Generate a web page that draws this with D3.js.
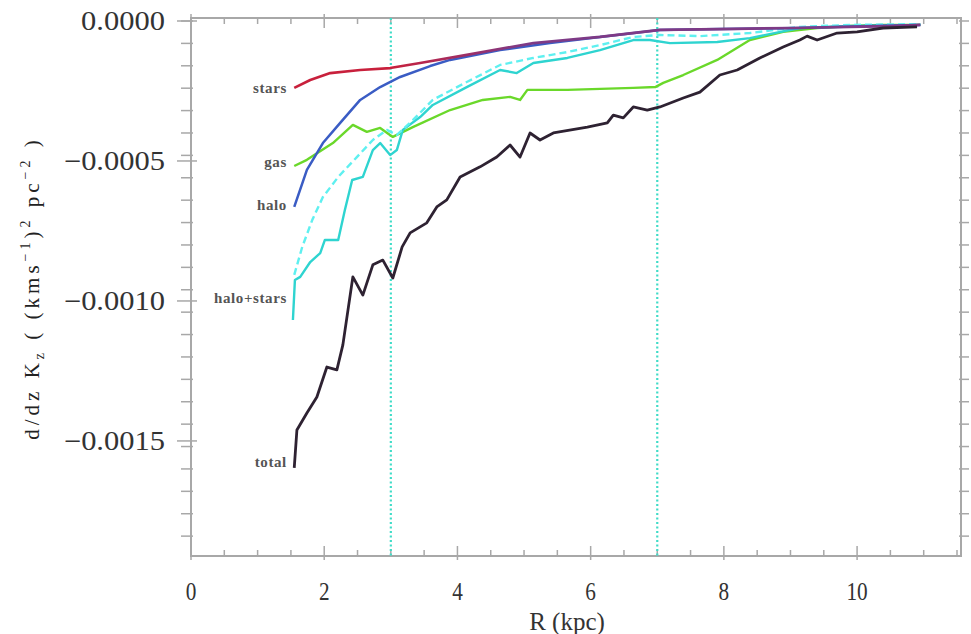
<!DOCTYPE html>
<html><head><meta charset="utf-8">
<script src="https://cdn.jsdelivr.net/npm/d3@7"></script>
<style>
html,body{margin:0;padding:0;background:#fff;}
svg{display:block;}
</style></head>
<body>
<svg id="chart" width="971" height="634"></svg>
<script>
// ---------- data ----------
const xTickLabels = [0, 2, 4, 6, 8, 10];
const yTickLabels = [0, -0.0005, -0.0010, -0.0015];
const markerLines = [3, 7];

const starsR   = [1.55,1.79,2.09,2.54,2.99,3.44,4.14,5.14,6.14,7.04,7.94,9.04,9.89,10.50,10.95];
const starsV   = [-2.39e-4,-2.11e-4,-1.86e-4,-1.75e-4,-1.68e-4,-1.50e-4,-1.21e-4,-0.79e-4,-0.57e-4,-0.32e-4,-0.29e-4,-0.25e-4,-0.21e-4,-0.18e-4,-0.14e-4];

const haloR    = [1.55,1.74,1.98,2.24,2.54,2.84,3.14,3.59,3.89,4.64,5.39,6.14,7.04,7.94,9.14,10.20,10.95];
const haloV    = [-6.64e-4,-5.32e-4,-4.36e-4,-3.64e-4,-2.82e-4,-2.36e-4,-2.00e-4,-1.61e-4,-1.39e-4,-1.04e-4,-0.79e-4,-0.57e-4,-0.32e-4,-0.29e-4,-0.25e-4,-0.18e-4,-0.14e-4];

const gasR     = [1.55,1.74,2.13,2.43,2.64,2.84,3.03,3.33,3.89,4.38,4.79,4.94,5.05,5.65,6.64,6.97,7.09,7.39,7.90,8.39,8.89,9.40,9.89,10.35,10.95];
const gasV     = [-5.18e-4,-4.96e-4,-4.36e-4,-3.71e-4,-3.96e-4,-3.82e-4,-4.14e-4,-3.79e-4,-3.18e-4,-2.82e-4,-2.71e-4,-2.82e-4,-2.46e-4,-2.46e-4,-2.39e-4,-2.36e-4,-2.21e-4,-1.93e-4,-1.39e-4,-0.68e-4,-0.39e-4,-0.25e-4,-0.18e-4,-0.14e-4,-0.14e-4];

const hsR      = [1.53,1.56,1.64,1.79,1.94,2.01,2.21,2.31,2.42,2.58,2.73,2.84,2.99,3.09,3.18,3.44,3.63,4.14,4.64,4.89,5.14,5.65,6.14,6.64,6.89,7.19,7.90,8.39,9.14,9.89,10.95];
const hsV      = [-10.68e-4,-9.25e-4,-9.14e-4,-8.61e-4,-8.29e-4,-7.82e-4,-7.82e-4,-6.75e-4,-5.68e-4,-5.57e-4,-4.61e-4,-4.36e-4,-4.79e-4,-4.61e-4,-3.89e-4,-3.43e-4,-3.00e-4,-2.36e-4,-1.75e-4,-1.86e-4,-1.50e-4,-1.32e-4,-1.04e-4,-0.68e-4,-0.68e-4,-0.79e-4,-0.75e-4,-0.61e-4,-0.25e-4,-0.18e-4,-0.14e-4];

const hs2R     = [1.55,1.67,1.82,1.98,2.21,2.49,2.73,2.94,3.09,3.33,3.63,4.14,4.64,5.14,5.65,6.14,6.64,7.04,7.64,8.39,9.14,9.89,10.95];
const hs2V     = [-9.07e-4,-8.07e-4,-7.11e-4,-6.29e-4,-5.57e-4,-4.86e-4,-4.25e-4,-3.89e-4,-4.07e-4,-3.54e-4,-2.82e-4,-2.18e-4,-1.57e-4,-1.32e-4,-1.11e-4,-0.86e-4,-0.57e-4,-0.50e-4,-0.54e-4,-0.43e-4,-0.21e-4,-0.14e-4,-0.11e-4];

const totalR   = [1.55,1.59,1.74,1.89,2.04,2.19,2.28,2.43,2.58,2.73,2.88,3.03,3.17,3.29,3.54,3.69,3.84,4.04,4.34,4.59,4.79,4.94,5.09,5.24,5.44,5.95,6.25,6.34,6.49,6.64,6.85,7.04,7.39,7.64,7.94,8.20,8.54,8.89,9.14,9.25,9.40,9.70,10.00,10.39,10.90];
const totalV   = [-15.96e-4,-14.61e-4,-14.00e-4,-13.43e-4,-12.36e-4,-12.46e-4,-11.57e-4,-9.14e-4,-9.79e-4,-8.71e-4,-8.54e-4,-9.18e-4,-8.07e-4,-7.57e-4,-7.21e-4,-6.64e-4,-6.39e-4,-5.57e-4,-5.21e-4,-4.86e-4,-4.43e-4,-4.86e-4,-4.00e-4,-4.25e-4,-4.00e-4,-3.79e-4,-3.64e-4,-3.36e-4,-3.46e-4,-3.07e-4,-3.18e-4,-3.07e-4,-2.75e-4,-2.54e-4,-1.93e-4,-1.75e-4,-1.32e-4,-0.93e-4,-0.68e-4,-0.54e-4,-0.68e-4,-0.43e-4,-0.39e-4,-0.25e-4,-0.21e-4];

const seriesNames = ["stars","gas","halo","halo+stars","total"];
const labelValues = [-2.45e-4,-5.10e-4,-6.64e-4,-9.96e-4,-15.80e-4];

// ---------- layout ----------
const svg = d3.select("#chart");
const L = 191, R = 961, T = 18, B = 556;
const x = d3.scaleLinear().domain([0, 11.56]).range([L, R]);
const y = d3.scaleLinear().domain([0.0000107, -0.001911]).range([T, B]);

const serif = "'Liberation Serif','DejaVu Serif',serif";
const axisCol = "#a8a8a8";

// gradient for the stars curve (red turning purple where it meets the halo curve)
const defs = svg.append("defs");
const grad = defs.append("linearGradient").attr("id", "starsGrad")
  .attr("gradientUnits", "userSpaceOnUse")
  .attr("x1", x(3.0)).attr("x2", x(5.0)).attr("y1", 0).attr("y2", 0);
grad.append("stop").attr("offset", 0).attr("stop-color", "#c8203c");
grad.append("stop").attr("offset", 1).attr("stop-color", "#7e3a86");

// frame
svg.append("rect").attr("x", L).attr("y", T).attr("width", R - L).attr("height", B - T)
  .attr("fill", "none").attr("stroke", axisCol).attr("stroke-width", 2);

// x ticks
const xMinor = d3.range(0, 11.56, 0.5);
const gx = svg.append("g").attr("stroke", axisCol).attr("stroke-width", 1.5);
xMinor.forEach(v => {
  const major = Math.abs(v % 2) < 1e-9;
  const len = major ? 10 : 6;
  gx.append("line").attr("x1", x(v)).attr("x2", x(v)).attr("y1", B - len).attr("y2", B + (major ? 4 : 0));
  gx.append("line").attr("x1", x(v)).attr("x2", x(v)).attr("y1", T + len).attr("y2", T - (major ? 4 : 0));
});
// y ticks
const yMinor = d3.range(0, -0.00191, -0.00008);
yMinor.forEach(v => {
  gx.append("line").attr("x1", L - 10).attr("x2", L + 2).attr("y1", y(v)).attr("y2", y(v));
  gx.append("line").attr("x1", R - 2).attr("x2", R + 8).attr("y1", y(v)).attr("y2", y(v));
});
yTickLabels.forEach(v => {
  gx.append("line").attr("x1", L - 14).attr("x2", L + 6).attr("y1", y(v)).attr("y2", y(v));
});

// x tick labels
svg.append("g").selectAll("text").data(xTickLabels).join("text")
  .attr("transform", d => `translate(${x(d)},${B + 44}) scale(0.85,1)`)
  .attr("text-anchor", "middle")
  .attr("font-family", serif).attr("font-size", 25).attr("fill", "#333")
  .text(d => d);

// y tick labels
const fmt = d => (d === 0 ? "0.0000" : "\u2212" + Math.abs(d).toFixed(4));
svg.append("g").selectAll("text").data(yTickLabels).join("text")
  .attr("transform", d => `translate(165,${y(d) + 3}) scale(1.13,1)`)
  .attr("text-anchor", "end").attr("dominant-baseline", "middle")
  .attr("font-family", serif).attr("font-size", 27).attr("fill", "#333")
  .text(fmt);

// axis titles
svg.append("text").attr("x", 567).attr("y", 630)
  .attr("text-anchor", "middle").attr("font-family", serif).attr("font-size", 25).attr("fill", "#333")
  .text("R (kpc)");

const yt = svg.append("text")
  .attr("transform", "translate(39,288) rotate(-90)")
  .attr("text-anchor", "middle").attr("font-family", serif).attr("font-size", 21)
  .attr("letter-spacing", 4).attr("fill", "#222");
yt.append("tspan").text("d/dz K");
yt.append("tspan").attr("font-size", 14).attr("dy", 5).text("z");
yt.append("tspan").attr("dy", -5).text(" ( (kms");
yt.append("tspan").attr("font-size", 14).attr("dy", -9).text("\u22121");
yt.append("tspan").attr("dy", 9).text(")");
yt.append("tspan").attr("font-size", 14).attr("dy", -9).text("2");
yt.append("tspan").attr("dy", 9).text(" pc");
yt.append("tspan").attr("font-size", 14).attr("dy", -9).text("\u22122");
yt.append("tspan").attr("dy", 9).text(" )");

// dotted vertical markers
svg.append("g").selectAll("line").data(markerLines).join("line")
  .attr("x1", d => x(d)).attr("x2", d => x(d)).attr("y1", T).attr("y2", B)
  .attr("stroke", "#40dcc8").attr("stroke-width", 2.2).attr("stroke-dasharray", "2,2.5");

// curves
const line = d3.line().x(d => x(d[0])).y(d => y(d[1]));
const zip = (a, b) => a.map((v, i) => [v, b[i]]);
const curves = [
  {r: gasR, v: gasV, color: "#6ad82a", w: 2.4},
  {r: hsR, v: hsV, color: "#2ed4d0", w: 2.4},
  {r: hs2R, v: hs2V, color: "#5ff0f0", w: 2.4, dash: "7,4"},
  {r: haloR, v: haloV, color: "#3a5cc4", w: 2.5},
  {r: starsR, v: starsV, color: "url(#starsGrad)", w: 2.7},
  {r: totalR, v: totalV, color: "#2e2232", w: 2.8}
];
curves.forEach(c => {
  svg.append("path").datum(zip(c.r, c.v)).attr("d", line)
    .attr("fill", "none").attr("stroke", c.color).attr("stroke-width", c.w)
    .attr("stroke-linejoin", "round")
    .attr("stroke-dasharray", c.dash || null);
});

// curve labels
svg.append("g").selectAll("text").data(seriesNames).join("text")
  .attr("x", x(1.44)).attr("y", (d, i) => y(labelValues[i]))
  .attr("text-anchor", "end").attr("dominant-baseline", "middle")
  .attr("font-family", serif).attr("font-size", 15).attr("letter-spacing", 0.6)
  .attr("font-weight", "bold").attr("fill", "#555")
  .text(d => d);
</script>
</body></html>
